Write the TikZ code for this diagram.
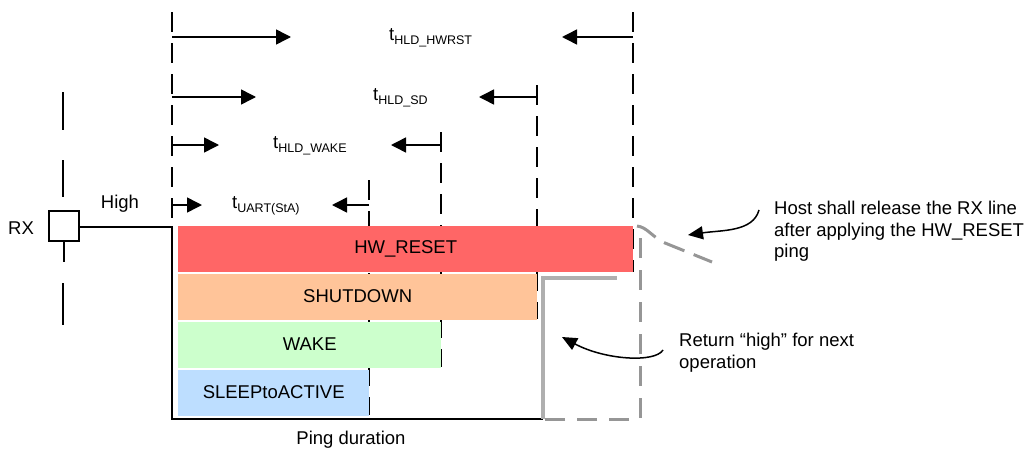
\documentclass[tikz,border=0pt]{standalone}
\usepackage{fontspec}
\setmainfont{Liberation Sans}
\usetikzlibrary{arrows.meta}
\definecolor{hwred}{RGB}{255,102,102}
\definecolor{sdorange}{RGB}{255,196,153}
\definecolor{wkgreen}{RGB}{204,255,204}
\definecolor{slblue}{RGB}{189,222,255}
\definecolor{gsolid}{RGB}{175,175,175}
\definecolor{gdashc}{RGB}{150,150,150}
\newcommand\tlab[1]{t\raisebox{-3.5pt}{\fontsize{12.5}{14}\selectfont #1}}
\begin{document}
\begin{tikzpicture}[x=1pt,y=-1pt,
  vdash/.style={line width=2.9pt, dash pattern=on 20pt off 11pt},
  ldash/.style={line width=2.7pt},
  gdash/.style={line width=3pt, draw=gdashc, dash pattern=on 20pt off 12pt},
  gline/.style={line width=3.3pt, draw=gsolid},
  tarrow/.style={line width=1.5pt, -{Triangle[length=15pt,width=15pt]}},
  carrow/.style={line width=1.5pt, -{Triangle[length=15pt,width=13pt]}},
  bar/.style={inner sep=0, minimum height=46pt, anchor=west, font=\fontsize{18.5}{22}\selectfont},
  lbl/.style={font=\fontsize{18.5}{22}\selectfont, inner sep=0},
  note/.style={font=\fontsize{18.5}{21.5}\selectfont, inner sep=0, align=left, anchor=north west}]
\useasboundingbox (0,0) rectangle (1027,450);

% RX input
\node[draw, line width=2.4pt, minimum size=30pt, inner sep=0] (sq) at (64,226) {};
\node[lbl] (rx) at (21,228) {RX};
\node[lbl] (high) at (120,204) {High};
\coordinate (lt1) at (63,92); \coordinate (lb1) at (63,130);
\coordinate (lt2) at (63,160); \coordinate (lb2) at (63,197);
\coordinate (lt3) at (63,283); \coordinate (lb3) at (63,325);
\draw[ldash] (lt1) -- (lb1);
\draw[ldash] (lt2) -- (lb2);
\draw[ldash] (sq.south) -- ++(0,20);
\draw[ldash] (lt3) -- (lb3);

% enclosing line
\coordinate (corner) at (172,227);
\coordinate (bl) at (172,419);
\coordinate (br) at (543,419);
\draw[line width=2.5pt] (sq.east |- corner) -- (corner) -- (bl) -- (br);

% vertical dashed lines (behind the bars)
\coordinate (v0t) at (172,12);
\coordinate (v1t) at (633,12);  \coordinate (v1b) at (633,272);
\coordinate (v2t) at (537,85);  \coordinate (v2b) at (537,319);
\coordinate (v3t) at (441,132); \coordinate (v3b) at (441,367);
\coordinate (v4t) at (369,180); \coordinate (v4b) at (369,415);
\draw[vdash] (v0t) -- (corner);
\draw[vdash] (v1t) -- (v1b);
\draw[vdash] (v2t) -- (v2b);
\draw[vdash] (v3t) -- (v3b);
\draw[vdash] (v4t) -- (v4b);

% bars
\node[bar, fill=hwred, minimum width=455pt] (hw) at (178,249) {HW\_RESET};
\node[bar, fill=sdorange, minimum width=359pt] (sd) at (178,296.5) {SHUTDOWN};
\node[bar, fill=wkgreen, minimum width=263pt] (wk) at (178,344.5) {WAKE};
\node[bar, fill=slblue, minimum width=191pt] (sl) at (178,392.5) {SLEEPtoACTIVE};

% timing arrows
\coordinate (a1l) at (172,37);  \coordinate (a1le) at (291,37);
\coordinate (a1r) at (633,37);  \coordinate (a1re) at (562,37);
\coordinate (a2l) at (172,97);  \coordinate (a2le) at (256,97);
\coordinate (a2r) at (537,97);  \coordinate (a2re) at (479,97);
\coordinate (a3l) at (172,145); \coordinate (a3le) at (219,145);
\coordinate (a3r) at (441,145); \coordinate (a3re) at (391,145);
\coordinate (a4l) at (172,205); \coordinate (a4le) at (202,205);
\coordinate (a4r) at (369,205); \coordinate (a4re) at (332,205);
\draw[tarrow] (a1l) -- (a1le);
\draw[tarrow] (a1r) -- (a1re);
\draw[tarrow] (a2l) -- (a2le);
\draw[tarrow] (a2r) -- (a2re);
\draw[tarrow] (a3l) -- (a3le);
\draw[tarrow] (a3r) -- (a3re);
\draw[tarrow] (a4l) -- (a4le);
\draw[tarrow] (a4r) -- (a4re);
\draw[line width=1.5pt] (a2r) ++(0,-12) -- ++(0,12);

\node[lbl, anchor=west] (t1) at (389,38) {\tlab{HLD\_HWRST}};
\node[lbl, anchor=west] (t2) at (373,98) {\tlab{HLD\_SD}};
\node[lbl, anchor=west] (t3) at (273,146) {\tlab{HLD\_WAKE}};
\node[lbl, anchor=west] (t4) at (232,206) {\tlab{UART(StA)}};

% return-high gray lines
\coordinate (gtop) at (543,278);
\coordinate (gend) at (617,278);
\draw[gline] (br) -- (gtop) -- (gend);
\coordinate (gc0) at (637,226);
\coordinate (gc1) at (665,243);
\coordinate (gc2) at (712,262);
\draw[gdash, dash pattern=on 22pt off 10pt] (gc0) .. controls (647,227) and (652,237) .. (gc1) -- (gc2);
\coordinate (gvt) at (640,238);
\coordinate (gvb) at (640,419);
\draw[gdash] (gvt) -- (gvb) -- (br);

% notes
\node[note] (n1) at (774,201) {Host shall release the RX line\\after applying the HW\_RESET\\ping};
\node[note] (n2) at (679,333) {Return “high” for next\\operation};
\coordinate (n1s) at (759,210);
\coordinate (n1e) at (688,235);
\draw[carrow] (n1s) .. controls (753,232) and (722,230) .. (n1e);
\coordinate (n2s) at (663,350);
\coordinate (n2e) at (562,337);
\draw[carrow] (n2s) .. controls (655,363) and (605,360) .. (n2e);

\node[lbl] (ping) at (351,440) {Ping duration};
\end{tikzpicture}
\end{document}
